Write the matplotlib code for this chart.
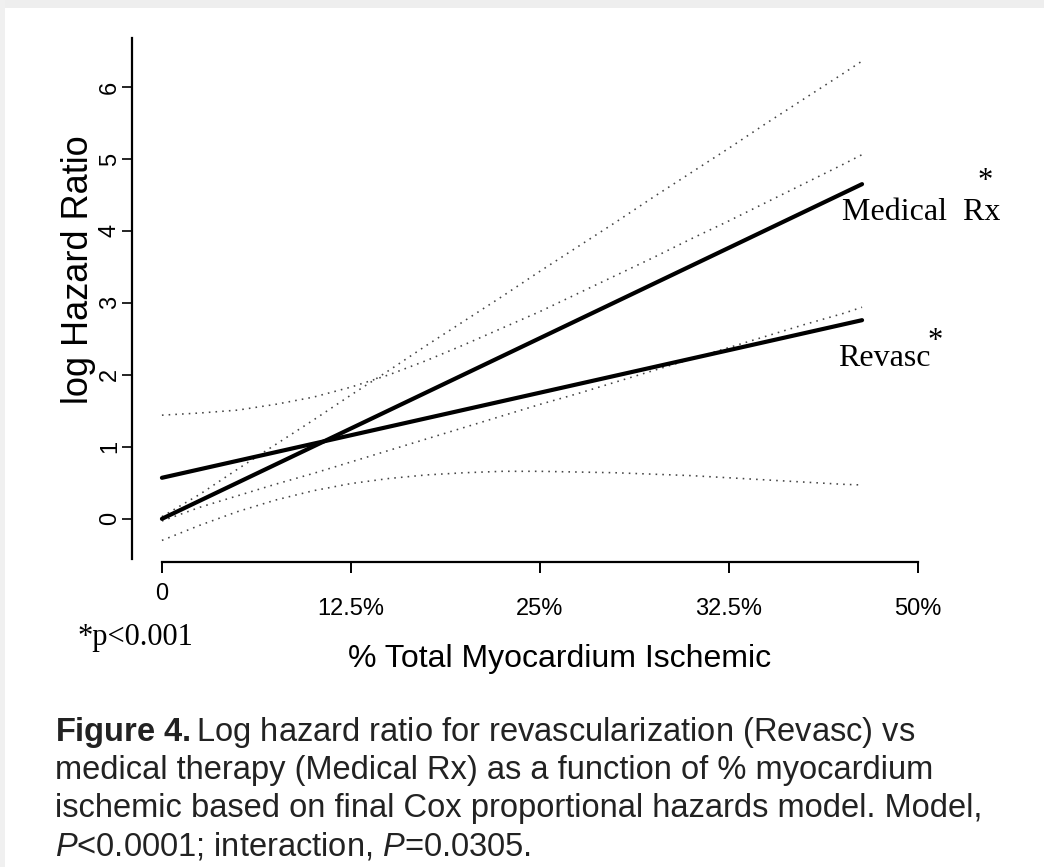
import matplotlib
matplotlib.use("Agg")
import matplotlib.pyplot as plt
from matplotlib.patches import Rectangle

# ---- data ----
x_ticks = [0, 12.5, 25, 37.5, 50]
x_tick_labels = ["0", "12.5%", "25%", "32.5%", "50%"]
y_ticks = [0, 1, 2, 3, 4, 5, 6]

medical_x = [0, 46.3]
medical_y = [0.0, 4.65]
revasc_x = [0, 46.3]
revasc_y = [0.57, 2.76]

band_x = [0, 2.5, 5, 7.5, 10, 12.5, 15, 17.5, 20, 22.5, 25, 27.5, 30,
          32.5, 35, 37.5, 40, 42.5, 45, 46.3]
revasc_upper = [1.44, 1.47, 1.51, 1.59, 1.69, 1.83, 2.00, 2.20, 2.42, 2.65,
                2.88, 3.13, 3.38, 3.63, 3.89, 4.14, 4.40, 4.66, 4.92, 5.06]
revasc_lower = [-0.30, -0.09, 0.10, 0.26, 0.39, 0.49, 0.56, 0.61, 0.64, 0.66,
                0.66, 0.65, 0.64, 0.62, 0.60, 0.57, 0.54, 0.51, 0.48, 0.47]
medical_upper = [0.03, 0.34, 0.69, 1.03, 1.37, 1.72, 2.06, 2.41, 2.75, 3.09,
                 3.44, 3.78, 4.12, 4.47, 4.81, 5.15, 5.50, 5.84, 6.18, 6.36]
medical_lower = [-0.03, 0.16, 0.32, 0.48, 0.63, 0.79, 0.95, 1.11, 1.27, 1.43,
                 1.59, 1.74, 1.90, 2.06, 2.22, 2.38, 2.54, 2.70, 2.85, 2.94]

W, H = 1044, 867
plt.rcParams['font.family'] = ['Liberation Sans', 'DejaVu Sans']
plt.rcParams['mathtext.fontset'] = 'custom'
plt.rcParams['mathtext.rm'] = 'Liberation Sans'
plt.rcParams['mathtext.bf'] = 'Liberation Sans:bold'
plt.rcParams['mathtext.it'] = 'Liberation Sans:italic'

fig = plt.figure(figsize=(W / 100, H / 100), dpi=100)
fig.patch.set_facecolor('white')

# light grey frame of the screenshot
fig.add_artist(Rectangle((0, 1 - 8 / H), 1, 8 / H, transform=fig.transFigure,
                         facecolor='#eeeeee', edgecolor='none'))
fig.add_artist(Rectangle((0, 0), 5 / W, 1, transform=fig.transFigure,
                         facecolor='#f0f0f0', edgecolor='none'))

def fx(px):
    return px / W

def fy(py):
    return 1 - py / H

ax = fig.add_axes([fx(132), fy(562), 786 / W, (562 - 36.6) / H])
ax.set_xlim(-1.98, 50)
ax.set_ylim(-0.6, 6.7)

dot = dict(color='#444444', lw=1.15, linestyle=(0, (1, 3.2)))
ax.plot(band_x, revasc_upper, **dot)
ax.plot(band_x, revasc_lower, **dot)
ax.plot(band_x, medical_upper, **dot)
ax.plot(band_x, medical_lower, **dot)
ax.plot(medical_x, medical_y, color='black', lw=3.0, solid_capstyle='round')
ax.plot(revasc_x, revasc_y, color='black', lw=3.0, solid_capstyle='round')

for s in ['top', 'right']:
    ax.spines[s].set_visible(False)
ax.spines['left'].set_linewidth(1.6)
ax.spines['bottom'].set_linewidth(1.6)
ax.spines['left'].set_bounds(-0.56, 6.68)
ax.spines['bottom'].set_bounds(0, 50)

ax.set_xticks(x_ticks)
ax.set_xticklabels(x_tick_labels, fontsize=17)
ax.set_yticks(y_ticks)
ax.set_yticklabels([str(v) for v in y_ticks], fontsize=17, rotation=90, va='center')
ax.tick_params(axis='x', length=8, width=1.4, pad=18, colors='black')
ax.tick_params(axis='y', length=7, width=1.2, pad=1.0, colors='black')
ax.xaxis.get_major_ticks()[0].set_pad(7)

# axis labels
fig.text(fx(560), fy(659), "% Total Myocardium Ischemic", fontsize=23,
         ha='center', va='center')
fig.text(fx(78), fy(270), "log Hazard Ratio", fontsize=26, rotation=90,
         ha='center', va='center')

serif = ['Liberation Serif', 'DejaVu Serif']
fig.text(fx(842), fy(213), "Medical  Rx", family=serif, fontsize=23,
         ha='left', va='center')
fig.text(fx(985), fy(181), "*", family=serif, fontsize=22, ha='center', va='center')
fig.text(fx(838), fy(359), "Revasc", family=serif, fontsize=23,
         ha='left', va='center')
fig.text(fx(935), fy(342), "*", family=serif, fontsize=22, ha='center', va='center')
fig.text(fx(78), fy(637), "*p<0.001", family=serif, fontsize=22,
         ha='left', va='center')

# caption
cap = [r"$\mathbf{Figure\ 4.}$Log hazard ratio for revascularization (Revasc) vs",
       "medical therapy (Medical Rx) as a function of % myocardium",
       "ischemic based on final Cox proportional hazards model. Model,",
       r"$\mathit{P}$<0.0001; interaction, $\mathit{P}$=0.0305."]
for i, line in enumerate(cap):
    fig.text(fx(55), fy(733 + 37.7 * i), line, fontsize=23.5, ha='left',
             va='center', color='#222222')

fig.savefig("out.png", dpi=100)
